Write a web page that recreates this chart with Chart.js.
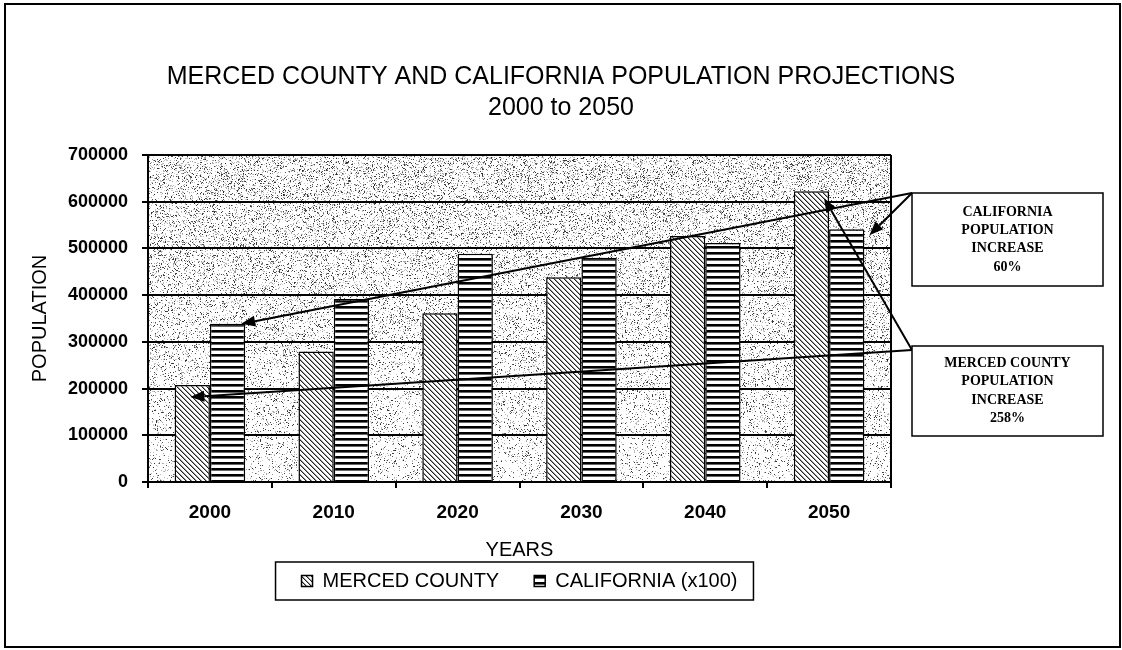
<!DOCTYPE html>
<html>
<head>
<meta charset="utf-8">
<title>Merced County and California Population Projections</title>
<script src="https://cdn.jsdelivr.net/npm/chart.js@4.4.1/dist/chart.umd.min.js"></script>
<style>
  html, body { margin: 0; padding: 0; background: #fff; }
  #wrap { width: 1122px; height: 650px; position: relative; }
</style>
</head>
<body>
<div id="wrap"><canvas id="chart" width="1122" height="650"></canvas></div>
<script>
// Projection years and the two population series
const years = ['2000', '2010', '2020', '2030', '2040', '2050'];
const mercedCounty = [207500, 279500, 361000, 438500, 526500, 622500];
const californiaX100 = [338500, 392000, 488500, 480000, 511500, 541000];
const yTickValues = [0, 100000, 200000, 300000, 400000, 500000, 600000, 700000];

// Call-out texts
const californiaNote = ['CALIFORNIA', 'POPULATION', 'INCREASE', '60%'];
const mercedNote = ['MERCED COUNTY', 'POPULATION', 'INCREASE', '258%'];

const SANS = '"Liberation Sans", Arial, sans-serif';
const SERIF = '"Liberation Serif", "Times New Roman", serif';

// Fill patterns: diagonal hatch for Merced, horizontal stripes for California
function diagonalHatch() {
  const n = 5;
  const c = document.createElement('canvas');
  c.width = n; c.height = n;
  const g = c.getContext('2d');
  g.fillStyle = '#fff'; g.fillRect(0, 0, n, n);
  for (let i = 0; i < n; i++) {
    g.fillStyle = '#222'; g.fillRect(i, i, 1, 1);
    g.fillStyle = '#999'; g.fillRect((i + 1) % n, i, 1, 1);
  }
  return g.createPattern(c, 'repeat');
}
function horizontalStripes() {
  const c = document.createElement('canvas');
  c.width = 4; c.height = 6;
  const g = c.getContext('2d');
  g.fillStyle = '#fff'; g.fillRect(0, 0, 4, 6);
  g.fillStyle = '#000'; g.fillRect(0, 0, 4, 2);
  g.fillStyle = '#666'; g.fillRect(0, 2, 4, 1);
  return g.createPattern(c, 'repeat');
}

// Stippled plot background
const stipplePlugin = {
  id: 'stipple',
  beforeDraw(chart) {
    const { ctx, chartArea: a } = chart;
    const x0 = Math.round(a.left), y0 = Math.round(a.top);
    const w = Math.round(a.right - a.left), h = Math.round(a.bottom - a.top);
    const img = ctx.createImageData(w, h);
    let s = 20231;
    const rnd = () => (s = (Math.imul(s, 1664525) + 1013904223) >>> 0) / 4294967296;
    for (let y = 0; y < h; y++) {
      const p = 0.25 - 0.13 * (y / h);
      for (let x = 0; x < w; x++) {
        const i = (y * w + x) * 4;
        let v = 255;
        const r = rnd();
        if (r < p * 0.4) v = 40 + Math.floor(rnd() * 60);
        else if (r < p) v = 150 + Math.floor(rnd() * 60);
        img.data[i] = v; img.data[i + 1] = v; img.data[i + 2] = v; img.data[i + 3] = 255;
      }
    }
    ctx.putImageData(img, x0, y0);
  },
  beforeDatasetsDraw(chart) {
    const { ctx, chartArea: a } = chart;
    ctx.save();
    ctx.strokeStyle = '#000';
    ctx.lineWidth = 2;
    ctx.beginPath();
    ctx.moveTo(a.right, a.top);
    ctx.lineTo(a.right, a.bottom);
    ctx.stroke();
    ctx.restore();
  }
};

function arrow(ctx, x1, y1, x2, y2) {
  const ang = Math.atan2(y2 - y1, x2 - x1);
  const len = 14, half = 5.5;
  const bx = x2 - Math.cos(ang) * len, by = y2 - Math.sin(ang) * len;
  ctx.beginPath();
  ctx.moveTo(x1, y1);
  ctx.lineTo(bx, by);
  ctx.stroke();
  ctx.beginPath();
  ctx.moveTo(x2, y2);
  ctx.lineTo(bx + Math.sin(ang) * half, by - Math.cos(ang) * half);
  ctx.lineTo(bx - Math.sin(ang) * half, by + Math.cos(ang) * half);
  ctx.closePath();
  ctx.fill();
}

function noteBox(ctx, box, lines) {
  ctx.fillStyle = '#fff';
  ctx.fillRect(box.x, box.y, box.w, box.h);
  ctx.strokeStyle = '#000';
  ctx.lineWidth = 1.5;
  ctx.strokeRect(box.x, box.y, box.w, box.h);
  ctx.fillStyle = '#000';
  ctx.font = 'bold 14px ' + SERIF;
  ctx.textAlign = 'center';
  ctx.textBaseline = 'middle';
  const cx = box.x + box.w / 2;
  const step = 18.3;
  const start = box.y + box.h / 2 - step * (lines.length - 1) / 2;
  lines.forEach((t, i) => ctx.fillText(t, cx, start + i * step));
}

// Call-out boxes with arrows to the first and last bars of each series
const calloutPlugin = {
  id: 'callouts',
  afterDraw(chart) {
    const { ctx } = chart;
    const mc = chart.getDatasetMeta(0).data;
    const ca = chart.getDatasetMeta(1).data;
    const caBox = { x: 912, y: 193, w: 191, h: 93 };
    const mcBox = { x: 912, y: 346, w: 191, h: 90 };
    ctx.save();
    ctx.strokeStyle = '#000';
    ctx.fillStyle = '#000';
    ctx.lineWidth = 2;
    const first = 0, last = years.length - 1;
    // California: 2000 and 2050 bars
    arrow(ctx, caBox.x, caBox.y, ca[first].x + ca[first].width / 2 - 4, ca[first].y);
    arrow(ctx, caBox.x, caBox.y, ca[last].x + ca[last].width / 2 + 5, ca[last].y + 6);
    // Merced County: 2000 and 2050 bars
    arrow(ctx, mcBox.x, mcBox.y + 4, mc[first].x - 2, mc[first].y + 12);
    arrow(ctx, mcBox.x, mcBox.y + 4, mc[last].x + mc[last].width / 2 - 5, mc[last].y + 7);
    noteBox(ctx, caBox, californiaNote);
    noteBox(ctx, mcBox, mercedNote);

    // frame round the legend
    const hb = chart.legend.legendHitBoxes;
    if (hb && hb.length) {
      const l = hb[0].left - 26;
      const r = hb[hb.length - 1].left + hb[hb.length - 1].width + 16;
      const t = hb[0].top - 9;
      const b = hb[0].top + hb[0].height + 9;
      ctx.lineWidth = 1.5;
      ctx.strokeRect(l, t, r - l, b - t);
    }

    // outer frame of the whole figure
    ctx.lineWidth = 2;
    ctx.strokeRect(5, 4, 1115, 643);
    ctx.restore();
  }
};

const ctx = document.getElementById('chart').getContext('2d');
new Chart(ctx, {
  type: 'bar',
  data: {
    labels: years,
    datasets: [
      {
        label: 'MERCED COUNTY',
        data: mercedCounty,
        backgroundColor: diagonalHatch(),
        borderColor: '#000',
        borderWidth: 1.5,
        categoryPercentage: 0.57,
        barPercentage: 1.0
      },
      {
        label: 'CALIFORNIA (x100)',
        data: californiaX100,
        backgroundColor: horizontalStripes(),
        borderColor: '#000',
        borderWidth: 1.5,
        categoryPercentage: 0.57,
        barPercentage: 1.0
      }
    ]
  },
  options: {
    responsive: false,
    animation: false,
    devicePixelRatio: 1,
    layout: { padding: { left: 0, right: 0, top: 0, bottom: 49 } },
    plugins: {
      title: {
        display: true,
        text: ['MERCED COUNTY AND CALIFORNIA POPULATION PROJECTIONS', '2000 to 2050'],
        color: '#000',
        font: { family: SANS, size: 25, weight: 'normal', lineHeight: 1.24 },
        padding: { top: 61.5, bottom: 31.5 }
      },
      legend: {
        display: true,
        position: 'bottom',
        fullSize: false,
        labels: {
          color: '#000',
          font: { family: SANS, size: 20 },
          boxWidth: 11,
          boxHeight: 11,
          padding: 35
        }
      },
      tooltip: { enabled: false }
    },
    scales: {
      x: {
        offset: true,
        grid: { offset: true, drawOnChartArea: false, drawTicks: true, tickLength: 6, color: '#000', lineWidth: 2 },
        border: { display: true, color: '#000', width: 2 },
        ticks: { color: '#000', font: { family: SANS, size: 19, weight: 'bold' }, padding: 13, maxRotation: 0 },
        title: {
          display: true, text: 'YEARS', color: '#000',
          font: { family: SANS, size: 20, weight: 'normal' },
          padding: { top: 0, bottom: -26 }
        },
        afterFit(scale) { scale.height = 54; }
      },
      y: {
        position: 'left',
        min: 0,
        max: 700000,
        afterBuildTicks(scale) { scale.ticks = yTickValues.map(v => ({ value: v })); },
        grid: { color: '#000', lineWidth: 2, drawTicks: true, tickLength: 6 },
        border: { display: true, color: '#000', width: 2 },
        ticks: { color: '#000', font: { family: SANS, size: 18, weight: 'bold' }, padding: 14, callback: v => String(v) },
        title: {
          display: true, text: 'POPULATION', color: '#000',
          font: { family: SANS, size: 20, weight: 'normal' },
          padding: { top: 28, bottom: 0 }
        },
        afterFit(scale) { scale.width = 148; }
      },
      side: {
        type: 'linear',
        position: 'right',
        display: true,
        grid: { drawOnChartArea: false, drawTicks: false },
        border: { display: false },
        ticks: { display: false },
        afterFit(scale) { scale.width = 231; }
      }
    }
  },
  plugins: [stipplePlugin, calloutPlugin]
});
</script>
</body>
</html>
